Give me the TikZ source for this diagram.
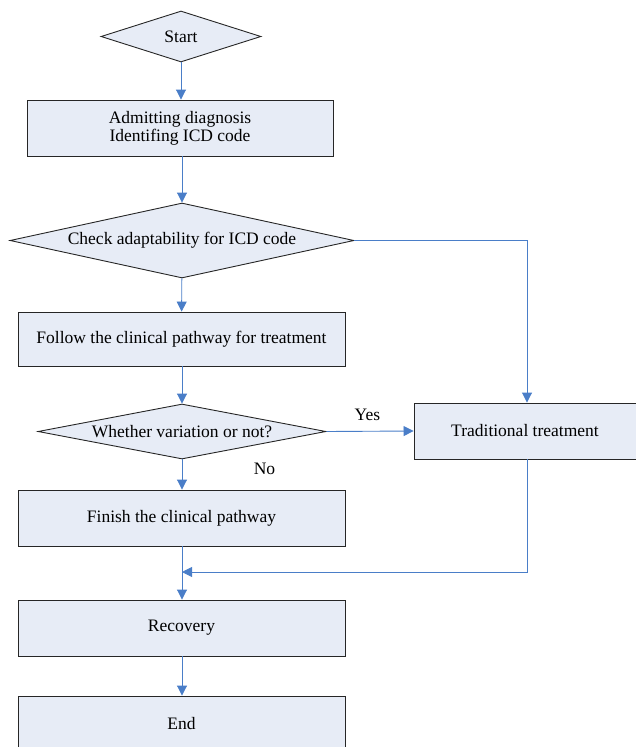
\documentclass[tikz,border=0pt]{standalone}
\usepackage{fontspec}
\setmainfont{Liberation Serif}
\usetikzlibrary{shapes.geometric,arrows.meta}
\definecolor{boxfill}{HTML}{E7ECF6}
\definecolor{flowblue}{HTML}{4A7EC8}
\begin{document}
\begin{tikzpicture}[x=1pt, y=-1pt,
  font=\fontsize{17.5}{18}\selectfont,
  stepbox/.style={draw=black!85, fill=boxfill, line width=0.9pt, align=center},
  choice/.style={draw=black!85, fill=boxfill, line width=0.9pt, diamond, inner sep=0pt},
  flow/.style={draw=flowblue, line width=0.9pt, -{Triangle[length=10pt,width=10pt]}}]
  \useasboundingbox (0,0) rectangle (636,747);
  \clip (0,0) rectangle (636,747);

  % Main column
  \node[choice, aspect=3.1, minimum width=160pt, minimum height=51pt] (start) at (181,36.5) {Start};
  \node[stepbox, minimum width=306pt, minimum height=56pt] (admit) at (180,128) {Admitting diagnosis\\Identifing ICD code};
  \node[choice, aspect=4.6, minimum width=344pt, minimum height=75pt] (check) at (182,240.5) {Check adaptability for ICD code};
  \node[stepbox, minimum width=327pt, minimum height=54pt] (follow) at (181.5,339) {Follow the clinical pathway for treatment};
  \node[choice, aspect=5.2, minimum width=288pt, minimum height=55pt] (vary) at (182,431.5) {Whether variation or not?};
  \node[stepbox, minimum width=327pt, minimum height=56pt] (finish) at (181.5,518) {Finish the clinical pathway};
  \node[stepbox, minimum width=327pt, minimum height=56pt] (recovery) at (181.5,628) {Recovery};
  \node[stepbox, minimum width=327pt, minimum height=56pt] (end) at (181.5,724) {End};

  % Side branch
  \node[stepbox, minimum width=222pt, minimum height=56pt] (trad) at (525,431) {Traditional treatment};
  \coordinate (merge) at (182,572);

  % Connectors
  \draw[flow] (start.south) -- (start.south |- admit.north);
  \draw[flow] (check.north |- admit.south) -- (check.north);
  \draw[flow] (check.east) -| ([xshift=2pt]trad.north);
  \draw[flow] (check) -- (follow);
  \draw[flow] (follow.south -| vary.north) -- (vary);
  \draw[flow] (vary.east) -- (trad.west) node[pos=0.47, above=7pt] (yes) {Yes};
  \draw[flow] (vary) -- (finish.north -| vary.south) node[pos=0.3, right=68pt] (no) {No};
  \draw[flow] ([xshift=2pt]trad.south) |- (merge);
  \draw[flow] (finish.south -| vary.south) -- (recovery.north -| vary.south);
  \draw[flow] (recovery.south -| vary.south) -- (end.north -| vary.south);
\end{tikzpicture}
\end{document}
